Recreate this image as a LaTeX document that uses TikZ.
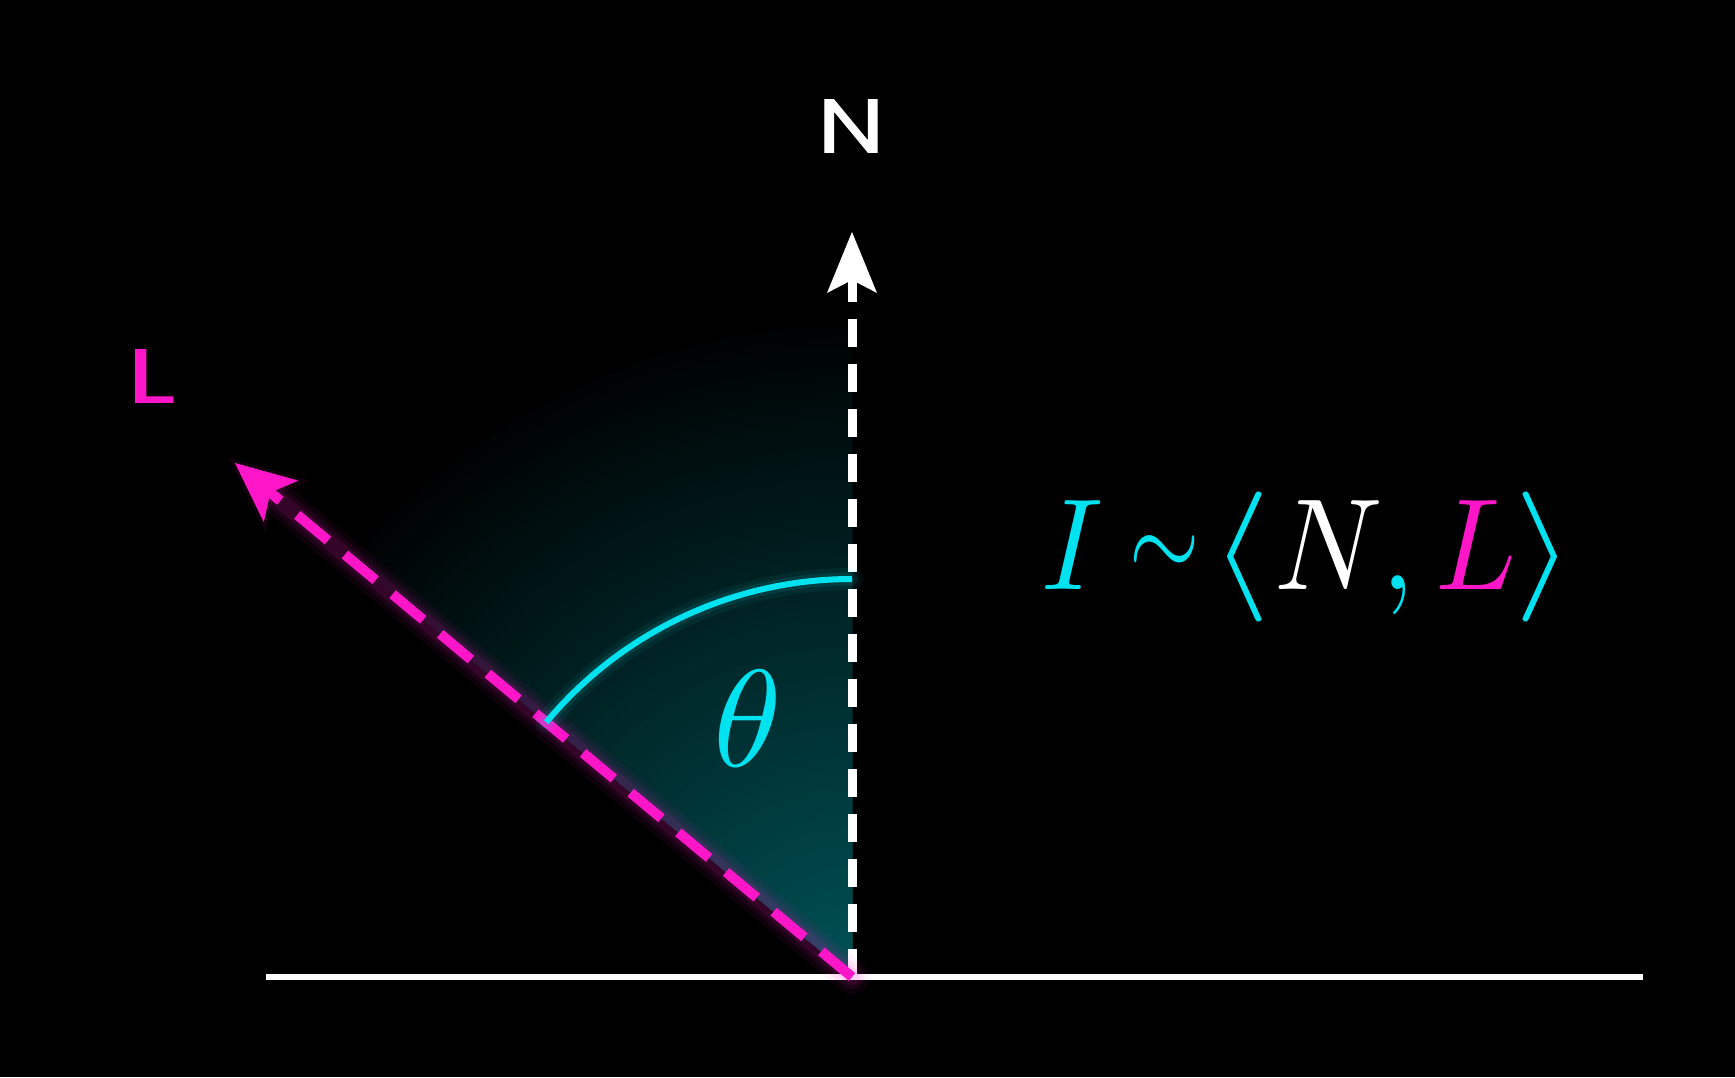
\documentclass[tikz,border=0pt]{standalone}
\usepackage{graphicx}
\usepackage{fontspec}
\newfontfamily\lblfont{Poppins}[FakeBold=1.2]
\usetikzlibrary{calc}
\definecolor{cy}{RGB}{0,226,240}
\definecolor{mg}{RGB}{255,22,200}
\definecolor{tealc}{RGB}{0,82,86}
\tikzset{
  glowline/.style={line cap=round, opacity=#1},
  whitedash/.style={white, line width=9pt, dash pattern=on 28pt off 17pt},
  pinkdash/.style={mg, line width=10pt, dash pattern=on 40pt off 22pt},
  lbl/.style={inner sep=0pt, font=\lblfont\fontsize{76}{76}\selectfont},
}
\begin{document}
\begin{tikzpicture}[x=1pt,y=1pt]
\fill[black] (0,0) rectangle (1735,1077);
\useasboundingbox (0,0) rectangle (1735,1077);
\coordinate (O) at (852,100);
\coordinate (Ntip) at (852,845);
\coordinate (Nend) at (852,798);
\coordinate (Ltip) at (235,614);
\coordinate (Lend) at ($(O)!0.935!(Ltip)$);
\coordinate (GL) at (266,100);
\coordinate (GR) at (1643,100);
\coordinate (A1) at ($(O)+(90:398)$);
% shaded sector (radial fade)
\foreach \r in {650,640,...,10}{
  \pgfmathsetmacro\p{100*(1-\r/670)}
  \fill[tealc!\p!black] (O) -- ++(90:\r) arc[start angle=90,end angle=140.2,radius=\r] -- cycle;
}
% ground
\draw[white, line width=6pt] (GL) -- (GR);
% normal
\draw[whitedash] (O) -- (Nend);
\draw[white, line width=9pt] ($(Nend)+(0,-4)$) -- ($(Ntip)+(0,-50)$);
\begin{scope}[shift={(Ntip)}, rotate=90]
\fill[white] (0,0) -- (-61,25) -- (-48,0) -- (-61,-25) -- cycle;
\end{scope}
% light vector with glow
\draw[mg, glowline=0.05, line width=34pt] (O) -- (Lend);
\draw[mg, glowline=0.07, line width=24pt] (O) -- (Lend);
\draw[mg, glowline=0.10, line width=16pt] (O) -- (Lend);
\draw[pinkdash] (O) -- (Lend);
\begin{scope}[shift={(Ltip)}, rotate=140.2]
\fill[mg, opacity=0.08] (8,0) -- (-68,34) -- (-50,0) -- (-68,-34) -- cycle;
\fill[mg] (0,0) -- (-60,27) -- (-46,0) -- (-60,-27) -- cycle;
\draw[mg, line width=10pt] (-44,0) -- (-58,0);
\end{scope}
% arc with glow
\draw[cy, glowline=0.06, line width=22pt] (A1) arc[start angle=90,end angle=140.2,radius=398];
\draw[cy, glowline=0.10, line width=13pt] (A1) arc[start angle=90,end angle=140.2,radius=398];
\draw[cy, line width=6pt] (A1) arc[start angle=90,end angle=140.2,radius=398];
% labels
\node[lbl, white] (Nlab) at (851,951) {\scalebox{1.25}[1]{N}};
\node[lbl, mg] (Llab) at (151,701) {\scalebox{1.45}[1]{L}};
\node[cy, inner sep=0pt] (theta) at (748,358) {\scalebox{13.8}{$\theta$}};
\node[cy, anchor=base west, inner sep=0pt] (formula) at (1041,487)
  {\scalebox{11.9}[13.0]{$I\mkern4.1mu\mathord{\vcenter{\hbox{\scalebox{0.76}[0.9]{$\sim$}}}}\mkern1.6mu\mathord{\scalebox{1.3}[1]{$\langle$}}\mkern0.55mu{\color{white}N}\mkern-0.34mu\mathord{,}\mkern3.2mu{\color{mg}L}\mkern-0.3mu\mathord{\scalebox{1.3}[1]{$\rangle$}}$}};
\end{tikzpicture}
\end{document}
